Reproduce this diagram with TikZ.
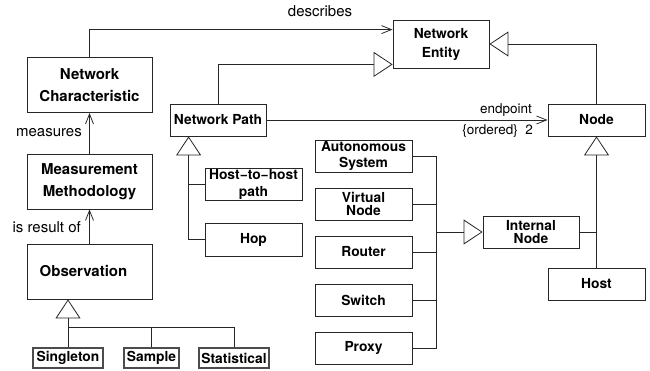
\documentclass[tikz,border=0pt]{standalone}
\usepackage{fontspec}
\setmainfont{TeX Gyre Heros}
\usetikzlibrary{arrows.meta,calc}

\tikzset{
  line/.style={draw=black!85, line width=0.8pt},
  cls/.style={line, fill=white, inner sep=0pt, align=center, font=\bfseries\fontsize{13.8}{13}\selectfont},
  bigcls/.style={cls, minimum width=125pt, minimum height=55pt, font=\bfseries\fontsize{15}{21.5}\selectfont},
  midcls/.style={cls, minimum width=97pt, minimum height=32pt},
  leaf/.style={cls, draw=black!70, line width=1.1pt, minimum height=20pt},
  lbl/.style={inner sep=0pt, font=\fontsize{15}{17}\selectfont},
  slbl/.style={inner sep=0pt, font=\fontsize{13.5}{15}\selectfont},
  gen/.style={line, -{Triangle[open, length=19pt, width=25pt, line width=0.8pt]}},
  assoc/.style={line, -{Straight Barb[length=10pt, width=8pt, line width=0.8pt]}}
}

\begin{document}
\begin{tikzpicture}[x=1pt, y=-1pt]
\useasboundingbox (0,0) rectangle (650,371);

% left column
\node[bigcls] (netchar) at (89.5,85) {Network\\Characteristic};
\node[bigcls] (meth) at (89.5,181.5) {Measurement\\Methodology};
\node[bigcls] (obs) at (89.5,271.5) {\hspace*{-12pt}Observation};
\node[leaf, minimum width=70pt] (single) at (68,358) {Singleton};
\node[leaf, minimum width=55pt] (sample) at (151.5,358) {Sample};
\node[leaf, minimum width=70pt] (stat) at (234,358) {Statistical};

% entities and paths
\node[cls, minimum width=96pt, minimum height=48pt, font=\bfseries\fontsize{13.8}{19}\selectfont] (entity) at (441,44) {Network\\Entity};
\node[midcls, minimum width=96pt] (netpath) at (218,120) {Network Path};
\node[midcls] (node) at (596.5,120) {Node};
\node[midcls] (host) at (596.5,284) {Host};
\node[midcls, minimum width=96pt, font=\bfseries\fontsize{13.8}{13.2}\selectfont] (internal) at (531,232) {Internal\\Node};
\node[midcls, font=\bfseries\fontsize{13.8}{17}\selectfont] (h2h) at (253.5,184) {Host−to−host\\path};
\node[midcls, minimum height=33pt] (hop) at (253.5,239.5) {Hop};

% kinds of internal node
\node[midcls, font=\bfseries\fontsize{13.8}{16}\selectfont] (as) at (363.5,156) {Autonomous\\System};
\node[midcls, font=\bfseries\fontsize{13.8}{13.2}\selectfont] (virt) at (363.5,204) {Virtual\\Node};
\node[midcls] (router) at (363.5,252) {Router};
\node[midcls] (switch) at (363.5,300) {Switch};
\node[midcls] (proxy) at (363.5,348) {Proxy};

% junction points
\coordinate (ibus) at (436,232);
\coordinate (npT) at ($(netpath.south west)+(19,0)$);
\coordinate (obus) at (68,327);
\coordinate (entIn) at ($(entity.north west)+(0,10)$);
\coordinate (entGen) at ($(entity.south west)+(0,-4)$);

% associations
\draw[assoc] (netchar.north) |- (entIn);
\node[lbl] (describes) at (320,11) {describes};
\draw[assoc] (meth.north) -- (netchar.south);
\node[lbl, anchor=east] (measures) at (82,133) {measures};
\draw[assoc] (obs.north) -- (meth.south);
\node[lbl, anchor=east] (resultof) at (81,227) {is result of};
\draw[assoc] (netpath.east) -- (node.west);
\node[slbl, anchor=south east] (endpoint) at (532,117) {endpoint};
\node[slbl, anchor=north east] (ordered) at (533,124) {\{ordered\}\ \ 2};

% generalizations
\draw[gen] (netpath.north) |- (entGen);
\draw[gen] (node.north) |- (entity.east);
\draw[gen] (host.north) -- (node.south);
\draw[line] (internal.east) -- (internal.east -| host.north);
\draw[gen] (ibus) -- (internal.west);
\draw[line] (as.east) -| (ibus);
\draw[line] (proxy.east) -| (ibus);
\draw[line] (virt.east) -- (virt.east -| ibus);
\draw[line] (router.east) -- (router.east -| ibus);
\draw[line] (switch.east) -- (switch.east -| ibus);
\draw[gen] (hop.west) -| (npT);
\draw[line] (h2h.west) -- (h2h.west -| npT);
\draw[gen] (single.north) -- (single.north |- obs.south);
\draw[line] (sample.north) |- (obus);
\draw[line] (stat.north) |- (obus);
\end{tikzpicture}
\end{document}
